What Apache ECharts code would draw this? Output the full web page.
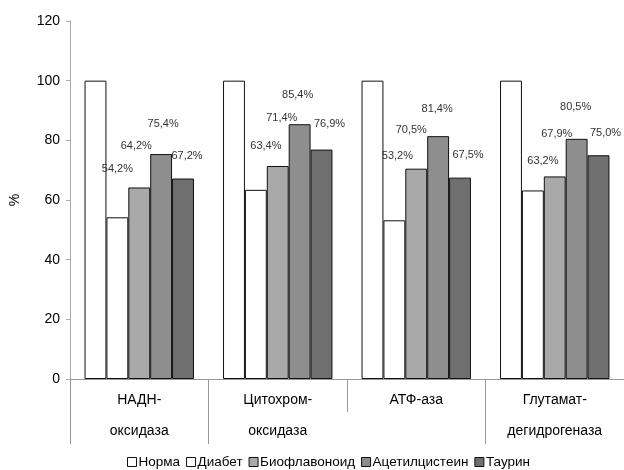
<!DOCTYPE html>
<html>
<head>
<meta charset="utf-8">
<script src="https://cdn.jsdelivr.net/npm/echarts@6/dist/echarts.min.js"></script>
<style>html,body{margin:0;padding:0;background:#fff}#c{width:624px;height:470px}</style>
</head>
<body>
<div id="c"></div>
<script>
const categories = ['НАДН-\nоксидаза', 'Цитохром-\nоксидаза', 'АТФ-аза', 'Глутамат-\nдегидрогеназа'];
const seriesNames = ['Норма', 'Диабет', 'Биофлавоноид', 'Ацетилцистеин', 'Таурин'];
const norma = [100, 100, 100, 100];
const diabet = [54.2, 63.4, 53.2, 63.2];
const bioflavonoid = [64.2, 71.4, 70.5, 67.9];
const acetylcysteine = [75.4, 85.4, 81.4, 80.5];
const taurine = [67.2, 76.9, 67.5, 75.0];
const yTicks = [0, 20, 40, 60, 80, 100, 120];

// label placement (manual offsets as in the original), per series per category: [dx, dy]
const labelShift = [
  null,
  [[0, -43], [10, -38], [3, -59], [10, -24]],
  [[-3, -36], [4, -43], [-5, -33], [2, -37]],
  [[2, -25], [-2, -24], [-1, -22], [-1, -26]],
  [[4, -17], [8, -20], [8, -17], [7, -17]]
];
const fills = ['#ffffff', '#ffffff', '#a9a9a9', '#8e8e8e', '#6f6f6f'];
const values = [norma, diabet, bioflavonoid, acetylcysteine, taurine];

const fmt = v => v.toFixed(1).replace('.', ',') + '%';

const series = values.map((arr, si) => ({
  name: seriesNames[si],
  type: 'bar',
  barGap: '0%',
  barCategoryGap: '21%',
  itemStyle: { color: fills[si], borderColor: '#111', borderWidth: 1 },
  data: arr.map((v, ci) => {
    const item = { value: v };
    if (labelShift[si]) {
      item.label = {
        show: true, position: 'top', distance: 0,
        offset: labelShift[si][ci],
        formatter: p => fmt(p.value),
        fontFamily: 'Liberation Sans, Arial, sans-serif', fontSize: 11, color: '#333'
      };
    }
    return item;
  })
}));

const chart = echarts.init(document.getElementById('c'));
chart.setOption({
  animation: false,
  backgroundColor: '#fff',
  textStyle: { fontFamily: 'Liberation Sans, Arial, sans-serif' },
  grid: { left: 70, right: 0, top: 21, bottom: 91, containLabel: false, outerBoundsMode: 'none' },
  legend: {
    top: 455, left: 127, padding: 0,
    itemWidth: 9, itemHeight: 9, itemGap: 6,
    icon: 'rect',
    itemStyle: { borderColor: '#111', borderWidth: 1 },
    textStyle: { fontSize: 13.5, color: '#000', padding: [0, 0, 0, -3] },
    data: seriesNames
  },
  xAxis: [{
    type: 'category', data: categories,
    axisLine: { show: true, lineStyle: { color: '#999', width: 1 } },
    axisTick: { show: true, length: 65, interval: (i) => i !== 2, lineStyle: { color: '#999' } },
    axisLabel: { interval: 0, fontSize: 14, color: '#000', lineHeight: 31, margin: 6, verticalAlign: 'top' }
  }, {
    type: 'category', data: categories, position: 'bottom', gridIndex: 0,
    axisLine: { show: false },
    axisTick: { show: true, length: 33, interval: 0, lineStyle: { color: '#999' } },
    axisLabel: { show: false }
  }],
  yAxis: {
    type: 'value', min: 0, max: 120, interval: 20,
    name: '%', nameLocation: 'middle', nameGap: 48, nameRotate: 90,
    nameTextStyle: { fontSize: 14, color: '#000' },
    axisLine: { show: true, lineStyle: { color: '#aaa' } },
    axisTick: { show: true, length: 4, lineStyle: { color: '#aaa' } },
    splitLine: { show: false },
    axisLabel: { fontSize: 14, color: '#000', margin: 10, formatter: v => yTicks.includes(v) ? String(v) : '' }
  },
  series: series
});
</script>
</body>
</html>
